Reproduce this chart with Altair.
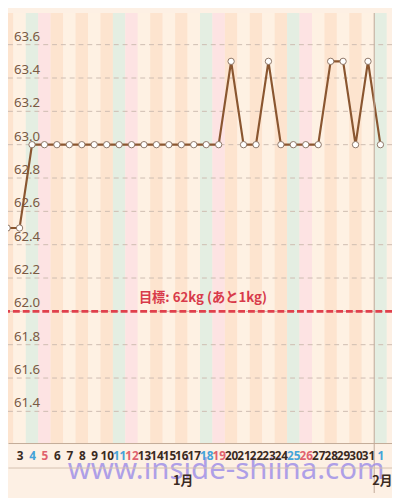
import altair as alt
import pandas as pd

# ---- data ----
dates = [
    "2020-01-02", "2020-01-03", "2020-01-04", "2020-01-05", "2020-01-06",
    "2020-01-07", "2020-01-08", "2020-01-09", "2020-01-10", "2020-01-11",
    "2020-01-12", "2020-01-13", "2020-01-14", "2020-01-15", "2020-01-16",
    "2020-01-17", "2020-01-18", "2020-01-19", "2020-01-20", "2020-01-21",
    "2020-01-22", "2020-01-23", "2020-01-24", "2020-01-25", "2020-01-26",
    "2020-01-27", "2020-01-28", "2020-01-29", "2020-01-30", "2020-01-31",
    "2020-02-01",
]
weights = [
    62.5, 62.5, 63.0, 63.0, 63.0,
    63.0, 63.0, 63.0, 63.0, 63.0,
    63.0, 63.0, 63.0, 63.0, 63.0,
    63.0, 63.0, 63.0, 63.5, 63.0,
    63.0, 63.5, 63.0, 63.0, 63.0,
    63.0, 63.5, 63.5, 63.0, 63.5,
    63.0,
]
goal_weight = 62.0
y_ticks = [61.4, 61.6, 61.8, 62.0, 62.2, 62.4, 62.6, 62.8, 63.0, 63.2, 63.4, 63.6]
month_boundaries = ["2020-01-31T12:00:00Z"]

# ---- layout / style ----
W, H, BOTTOM = 392, 439, 51
TOTAL_H = H + BOTTOM
stripe_domain = ["peach", "cream", "sat", "sun"]
stripe_range = ["#fde4cf", "#fef1e3", "#e4eee2", "#fde3e3"]

df = pd.DataFrame({"date": dates, "weight": weights})
ts = pd.to_datetime(df["date"])
df["start"] = (ts - pd.Timedelta(hours=12)).dt.strftime("%Y-%m-%dT%H:%M:%SZ")
df["end"] = (ts + pd.Timedelta(hours=12)).dt.strftime("%Y-%m-%dT%H:%M:%SZ")
df["date"] = ts.dt.strftime("%Y-%m-%dT00:00:00Z")
kinds = []
for i, t in enumerate(ts):
    if t.weekday() == 5:
        kinds.append("sat")
    elif t.weekday() == 6:
        kinds.append("sun")
    else:
        kinds.append("peach" if i % 2 == 0 else "cream")
df["kind"] = kinds

latest = weights[-1]
goal_df = pd.DataFrame({
    "goal": [goal_weight],
    "label": [f"目標: {goal_weight:g}kg (あと{latest - goal_weight:g}kg)"],
})
grid_df = pd.DataFrame({"v": y_ticks, "lab": [f"{v:.1f}" for v in y_ticks]})
bound_df = pd.DataFrame({"boundary": month_boundaries})
wm_df = pd.DataFrame({"t": ["www.inside-shiina.com"]})

xscale = alt.Scale(
    type="utc",
    domain=[
        alt.DateTime(year=2020, month=1, date=2, hours=1, minutes=41, utc=True),
        alt.DateTime(year=2020, month=2, date=1, hours=22, minutes=19, utc=True),
    ],
)
yscale = alt.Scale(domain=[61.21, 63.79], nice=False, zero=False)

day_values = [
    alt.DateTime(year=t.year, month=t.month, date=t.day, utc=True) for t in ts
]
day_axis = alt.Axis(
    orient="bottom",
    values=day_values,
    labelExpr="utcdate(datum.value)",
    labelColor={
        "condition": [
            {"test": "utcday(datum.value) == 6", "value": "#45a3d8"},
            {"test": "utcday(datum.value) == 0", "value": "#e0626e"},
        ],
        "value": "#3a2a1f",
    },
    labelFont="Noto Sans",
    labelFontWeight="bold",
    labelFontSize=12,
    labelBaseline="middle",
    labelPadding=13,
    labelOverlap=False,
    labelBound=False,
    labelFlush=False,
    ticks=False,
    tickSize=0,
    domain=True,
    domainColor="#c2aa98",
    grid=False,
    title=None,
    zindex=1,
)
month_axis = alt.Axis(
    orient="bottom",
    values=[
        alt.DateTime(year=2020, month=1, date=16, hours=2, minutes=40, utc=True),
        alt.DateTime(year=2020, month=2, date=1, hours=3, minutes=0, utc=True),
    ],
    labelExpr="(utcmonth(datum.value) + 1) + '月'",
    labelFont="Noto Sans CJK JP",
    labelFontWeight="bold",
    labelFontSize=13,
    labelColor="#3a2a1f",
    labelBaseline="middle",
    labelPadding=13,
    labelOverlap=False,
    labelBound=False,
    labelFlush=False,
    offset=25,
    ticks=False,
    tickSize=0,
    domain=True,
    domainColor="#d4bfae",
    grid=False,
    title=None,
    zindex=1,
)

stripes = alt.Chart(df).mark_rect(clip=True).encode(
    x=alt.X("start:T", scale=xscale, axis=None),
    x2="end:T",
    color=alt.Color("kind:N", scale=alt.Scale(domain=stripe_domain, range=stripe_range), legend=None),
)

grid = alt.Chart(grid_df).mark_rule(
    color="#cdbbb0", strokeWidth=1, strokeDash=[5, 4]
).encode(y=alt.Y("v:Q", scale=yscale, axis=None))

grid_labels = alt.Chart(grid_df).mark_text(
    font="Noto Sans", fontSize=13.5, color="#7a5943",
    align="left", baseline="alphabetic", dy=-4,
).encode(
    y=alt.Y("v:Q", scale=yscale, axis=None),
    x=alt.value(6),
    text="lab:N",
)

line = alt.Chart(df).mark_line(color="#8a5630", strokeWidth=2.2, clip=True).encode(
    x=alt.X("date:T", scale=xscale, axis=day_axis),
    y=alt.Y("weight:Q", scale=yscale, axis=None),
)

points = alt.Chart(df).mark_point(
    filled=True, fill="white", stroke="#8c7565", strokeWidth=1, size=42, opacity=1, clip=True
).encode(
    x=alt.X("date:T", scale=xscale, axis=None),
    y=alt.Y("weight:Q", scale=yscale, axis=None),
)

goal_rule = alt.Chart(goal_df).mark_rule(
    color="#e0404c", strokeWidth=3, strokeDash=[7, 3]
).encode(y=alt.Y("goal:Q", scale=yscale, axis=None))

goal_text = alt.Chart(goal_df).mark_text(
    color="#d83a4a", font="Noto Sans CJK JP", fontWeight="bold", fontSize=13.5,
    align="center", baseline="middle", dy=-14,
).encode(
    y=alt.Y("goal:Q", scale=yscale, axis=None),
    x=alt.value(W / 2 + 3),
    text="label:N",
)

boundary = alt.Chart(bound_df).mark_rule(color="#c0a898", strokeWidth=1).encode(
    x=alt.X("boundary:T", scale=xscale, axis=month_axis),
    y=alt.value(0),
    y2=alt.value(TOTAL_H),
)

watermark = alt.Chart(wm_df).mark_text(
    font="Noto Sans", fontSize=30, color="#9b8ce8", opacity=0.8,
    align="left", baseline="alphabetic",
).encode(x=alt.value(61), y=alt.value(476), text="t:N")

chart = (
    alt.layer(stripes, grid, grid_labels, goal_rule, line, points, goal_text, boundary, watermark)
    .resolve_axis(x="independent")
    .properties(
        width=W,
        height=H,
        autosize=alt.AutoSizeParams(type="none"),
        padding={"left": 0, "right": 0, "top": 0, "bottom": BOTTOM},
        background="#fdf0e4",
    )
    .configure_view(stroke=None)
)

chart.save("out.html", embed_options={"renderer": "svg", "actions": False})
